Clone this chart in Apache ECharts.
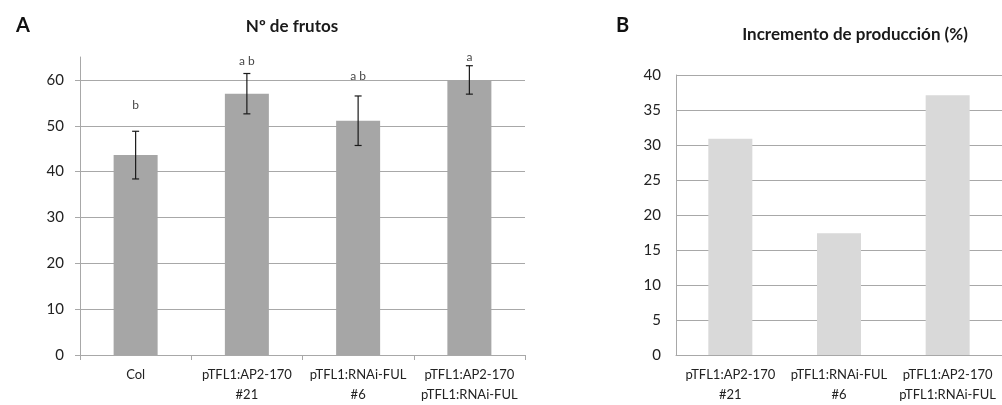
<!DOCTYPE html>
<html><head><meta charset="utf-8">
<script src="https://cdn.jsdelivr.net/npm/echarts@6/dist/echarts.min.js"></script>
<style>html,body{margin:0;padding:0;background:#fff}#c{width:1002px;height:405px}</style>
</head><body><div id="c"></div>
<script>
const catsA = ['Col', 'pTFL1:AP2-170\n#21', 'pTFL1:RNAi-FUL\n#6', 'pTFL1:AP2-170\npTFL1:RNAi-FUL'];
const fruits = [43.6, 57.0, 51.1, 60.0];
const fruitErr = [5.2, 4.4, 5.4, 3.1];
const letters = ['b', 'a b', 'a b', 'a'];
const letterY = [54.5, 64.1, 60.8, 64.9];
const catsB = ['pTFL1:AP2-170\n#21', 'pTFL1:RNAi-FUL\n#6', 'pTFL1:AP2-170\npTFL1:RNAi-FUL'];
const increase = [30.9, 17.4, 37.1];
const ticksA = {min: 0, max: 65, interval: 10};
const ticksB = {min: 0, max: 40, interval: 5};

const FONT = 'Lato';
const GRID = '#a8a8a8';
const chart = echarts.init(document.getElementById('c'), null, {renderer: 'canvas'});
const errData = fruits.map((v, i) => [i, v - fruitErr[i], v + fruitErr[i]]);
chart.setOption({
  animation: false,
  textStyle: {fontFamily: FONT},
  title: [
    {text: 'A', left: 11, top: 11, textStyle: {fontFamily: FONT, fontWeight: 'bold', fontSize: 20, color: '#111'}},
    {text: 'Nº de frutos', left: 287, top: 13, textAlign: 'center', textStyle: {fontFamily: FONT, fontWeight: 'bold', fontSize: 17, color: '#1a1a1a'}},
    {text: 'B', left: 611, top: 11, textStyle: {fontFamily: FONT, fontWeight: 'bold', fontSize: 20, color: '#111'}},
    {text: 'Incremento de producción (%)', left: 850, top: 21, textAlign: 'center', textStyle: {fontFamily: FONT, fontWeight: 'bold', fontSize: 17, color: '#1a1a1a'}}
  ],
  grid: [
    {left: 80, top: 57, width: 445, height: 300},
    {left: 676, top: 75, width: 341, height: 285}
  ],
  xAxis: [
    {type: 'category', gridIndex: 0, data: catsA, boundaryGap: true,
     axisLine: {lineStyle: {color: GRID, width: 1}},
     axisTick: {show: true, length: 5, lineStyle: {color: GRID}},
     axisLabel: {color: '#222', fontSize: 13, lineHeight: 20, margin: 10, interval: 0, fontFamily: FONT}},
    {type: 'category', gridIndex: 1, data: catsB, boundaryGap: true,
     axisLine: {lineStyle: {color: GRID, width: 1}},
     axisTick: {show: false},
     axisLabel: {color: '#222', fontSize: 13, lineHeight: 20, margin: 10, interval: 0, fontFamily: FONT}}
  ],
  yAxis: [
    {type: 'value', gridIndex: 0, min: ticksA.min, max: ticksA.max, interval: ticksA.interval,
     axisLine: {show: true, lineStyle: {color: GRID}},
     axisTick: {show: true, length: 5, lineStyle: {color: GRID}},
     axisLabel: {color: '#222', fontSize: 15, margin: 16, showMaxLabel: false, fontFamily: FONT},
     splitLine: {show: true, showMaxLine: false, lineStyle: {color: GRID, width: 1}}},
    {type: 'value', gridIndex: 1, min: ticksB.min, max: ticksB.max, interval: ticksB.interval,
     axisLine: {show: true, lineStyle: {color: GRID}},
     axisTick: {show: false},
     axisLabel: {color: '#222', fontSize: 15, margin: 15, fontFamily: FONT},
     splitLine: {show: true, lineStyle: {color: GRID, width: 1}}}
  ],
  series: [
    {type: 'bar', xAxisIndex: 0, yAxisIndex: 0, data: fruits, barWidth: 44,
     itemStyle: {color: '#a6a6a6'}},
    {type: 'custom', xAxisIndex: 0, yAxisIndex: 0, data: errData, z: 5,
     renderItem: function (params, api) {
       const x = api.value(0);
       const lo = api.coord([x, api.value(1)]);
       const hi = api.coord([x, api.value(2)]);
       const w = 3.5;
       const st = {stroke: '#1a1a1a', lineWidth: 1.2};
       return {type: 'group', children: [
         {type: 'line', shape: {x1: lo[0], y1: lo[1], x2: hi[0], y2: hi[1]}, style: st},
         {type: 'line', shape: {x1: lo[0] - w, y1: lo[1], x2: lo[0] + w, y2: lo[1]}, style: st},
         {type: 'line', shape: {x1: hi[0] - w, y1: hi[1], x2: hi[0] + w, y2: hi[1]}, style: st}
       ]};
     }},
    {type: 'scatter', xAxisIndex: 0, yAxisIndex: 0, symbolSize: 0, z: 6,
     data: letterY.map((v, i) => ({value: [i, v], name: letters[i]})),
     label: {show: true, position: 'inside', formatter: p => p.name, color: '#111', fontSize: 12, fontFamily: FONT}},
    {type: 'bar', xAxisIndex: 1, yAxisIndex: 1, data: increase, barWidth: 44,
     itemStyle: {color: '#d9d9d9'}}
  ]
});
</script></body></html>
